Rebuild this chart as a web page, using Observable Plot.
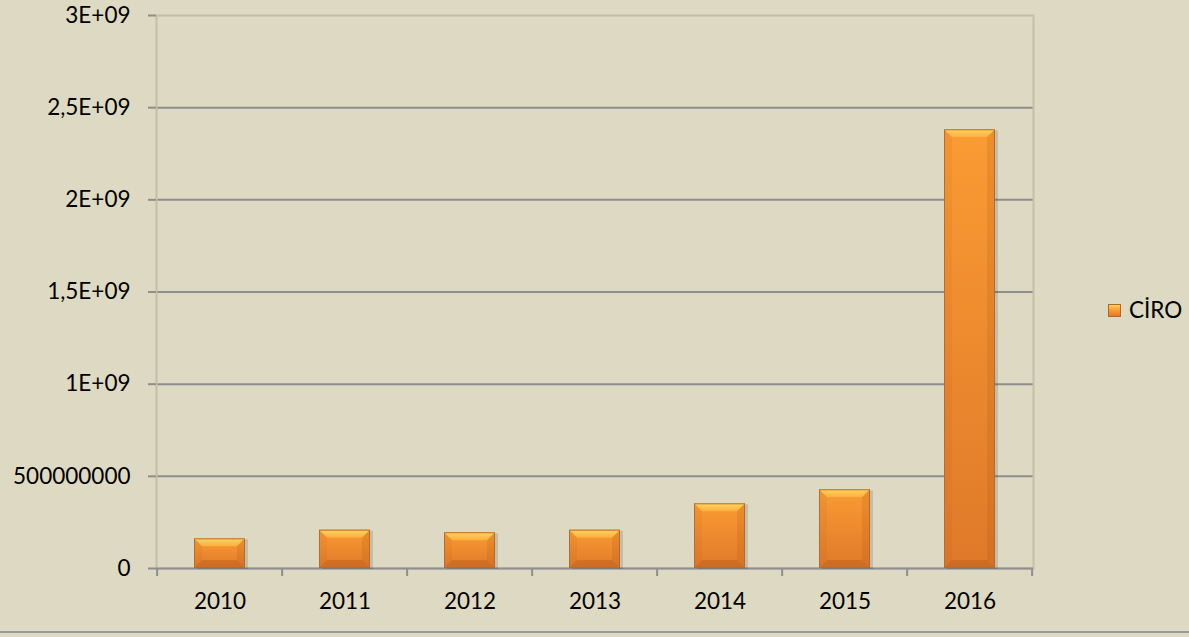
<!DOCTYPE html>
<html>
<head>
<meta charset="utf-8">
<script src="https://cdn.jsdelivr.net/npm/d3@7"></script>
<script src="https://cdn.jsdelivr.net/npm/@observablehq/plot@0.6"></script>
<style>
  html, body { margin: 0; padding: 0; background: #DDD9C3; }
  #wrap { position: relative; width: 1189px; height: 637px; overflow: hidden; background: #DDD9C3; font-family: Lato, "Open Sans", sans-serif; }
  #legend { position: absolute; left: 1108px; top: 296px; height: 28px; line-height: 28px; display: flex; align-items: center; font-size: 22.5px; color: #000; white-space: nowrap; }
  #legend .sw { width: 13px; height: 13px; margin-right: 8px; border: 1px solid #B3652A; box-sizing: border-box;
    background: linear-gradient(to bottom, #FFD25E 0%, #FBA73A 35%, #F7922F 60%, #E07A2B 100%); }
  #bottomline { position: absolute; left: 0; top: 631px; width: 1189px; border-top: 2px solid #9A9A9A; }
</style>
</head>
<body>
<div id="wrap">
  <div id="chart"></div>
  <div id="legend"><span class="sw"></span><span id="legendText"></span></div>
  <div id="bottomline"></div>
</div>
<script>
const years = ["2010", "2011", "2012", "2013", "2014", "2015", "2016"];
const ciro = [161e6, 208e6, 194e6, 208e6, 351e6, 427e6, 2380e6];
const seriesName = "CİRO";
const yTicks = [0, 5e8, 1e9, 1.5e9, 2e9, 2.5e9, 3e9];
const yTickLabels = ["0", "500000000", "1E+09", "1,5E+09", "2E+09", "2,5E+09", "3E+09"];

const data = years.map((year, i) => ({year, value: ciro[i]}));

function bevel(index, scales, values, dimensions, context, next) {
  const g = next(index, scales, values, dimensions, context);
  const sel = d3.select(g);
  const rects = sel.selectAll("rect").nodes();
  rects.forEach(node => {
    const x = +node.getAttribute("x"), y = +node.getAttribute("y");
    const w = +node.getAttribute("width"), h = +node.getAttribute("height");
    const b = Math.min(8, h / 3, w / 3);
    const poly = (pts, fill) => sel.append("polygon")
      .attr("points", pts.map(p => p.join(",")).join(" "))
      .attr("fill", fill).attr("stroke", "none");
    poly([[x, y], [x + w, y], [x + w - b, y + b], [x + b, y + b]], "url(#bevelTop)");
    poly([[x, y], [x + b, y + b], [x + b, y + h - b], [x, y + h]], "rgba(170,80,10,0.08)");
    poly([[x + w, y], [x + w - b, y + b], [x + w - b, y + h - b], [x + w, y + h]], "rgba(150,70,10,0.14)");
    poly([[x, y + h], [x + b, y + h - b], [x + w - b, y + h - b], [x + w, y + h]], "rgba(140,60,10,0.22)");
    sel.append("rect").attr("x", x + 0.5).attr("y", y + 0.5).attr("width", w - 1).attr("height", h - 1)
      .attr("fill", "none").attr("stroke", "#B86B2C").attr("stroke-width", 1);
  });
  return g;
}

const chart = Plot.plot({
  width: 1189,
  height: 637,
  marginLeft: 156,
  marginRight: 156,
  marginTop: 15,
  marginBottom: 69,
  style: {background: "transparent", fontFamily: "Lato, 'Open Sans', sans-serif", fontSize: "22.5px", color: "#000", overflow: "visible"},
  x: {type: "band", domain: years, paddingInner: 0.59, paddingOuter: 0.295},
  y: {domain: [0, 3e9]},
  marks: [
    Plot.ruleY(yTicks.filter(d => d > 0 && d < 3e9), {stroke: "#8E8E8E", strokeWidth: 2}),
    Plot.frame({stroke: "#C4BFA5", strokeWidth: 2}),
    Plot.ruleY([0], {stroke: "#8E8E8E", strokeWidth: 2}),
    Plot.axisY(yTicks, {
      tickFormat: d => yTickLabels[yTicks.indexOf(d)],
      tickSize: 8, tickPadding: 18, stroke: "#8E8E8E", strokeWidth: 2,
      fill: "#000", fontSize: 22.5, label: null
    }),
    Plot.ruleX([0], {x: () => 0, frameAnchor: "left", stroke: "#8E8E8E", strokeWidth: 2}),
    Plot.axisX({tickSize: 0, tickPadding: 25, fill: "#000", fontSize: 22.5, label: null}),
    Plot.barY(data, {x: "year", y: "value", fill: "#000", fillOpacity: 0.12, dx: 3, dy: 1}),
    Plot.barY(data, {x: "year", y: "value", fill: "url(#barGrad)", render: bevel})
  ]
});

// gradients
const defs = d3.select(chart).insert("defs", ":first-child");
const g1 = defs.append("linearGradient").attr("id", "barGrad").attr("x1", 0).attr("y1", 0).attr("x2", 0).attr("y2", 1);
g1.append("stop").attr("offset", "0%").attr("stop-color", "#FA9B33");
g1.append("stop").attr("offset", "100%").attr("stop-color", "#DF792A");
const g2 = defs.append("linearGradient").attr("id", "bevelTop").attr("x1", 0).attr("y1", 0).attr("x2", 0).attr("y2", 1);
g2.append("stop").attr("offset", "0%").attr("stop-color", "#FFD660");
g2.append("stop").attr("offset", "100%").attr("stop-color", "#FCAE3E");

// band boundary ticks on the x axis, from the library's x scale
const xs = chart.scale("x");
const ys = chart.scale("y");
const y0 = ys.apply(0);
const bounds = years.map(yr => xs.apply(yr) - xs.step * 0.59 / 2);
bounds.push(bounds[bounds.length - 1] + xs.step);
d3.select(chart).append("g").selectAll("line").data(bounds).join("line")
  .attr("x1", d => d).attr("x2", d => d)
  .attr("y1", y0).attr("y2", y0 + 8)
  .attr("stroke", "#8E8E8E").attr("stroke-width", 2);

document.getElementById("chart").appendChild(chart);
document.getElementById("legendText").textContent = seriesName;
</script>
</body>
</html>
